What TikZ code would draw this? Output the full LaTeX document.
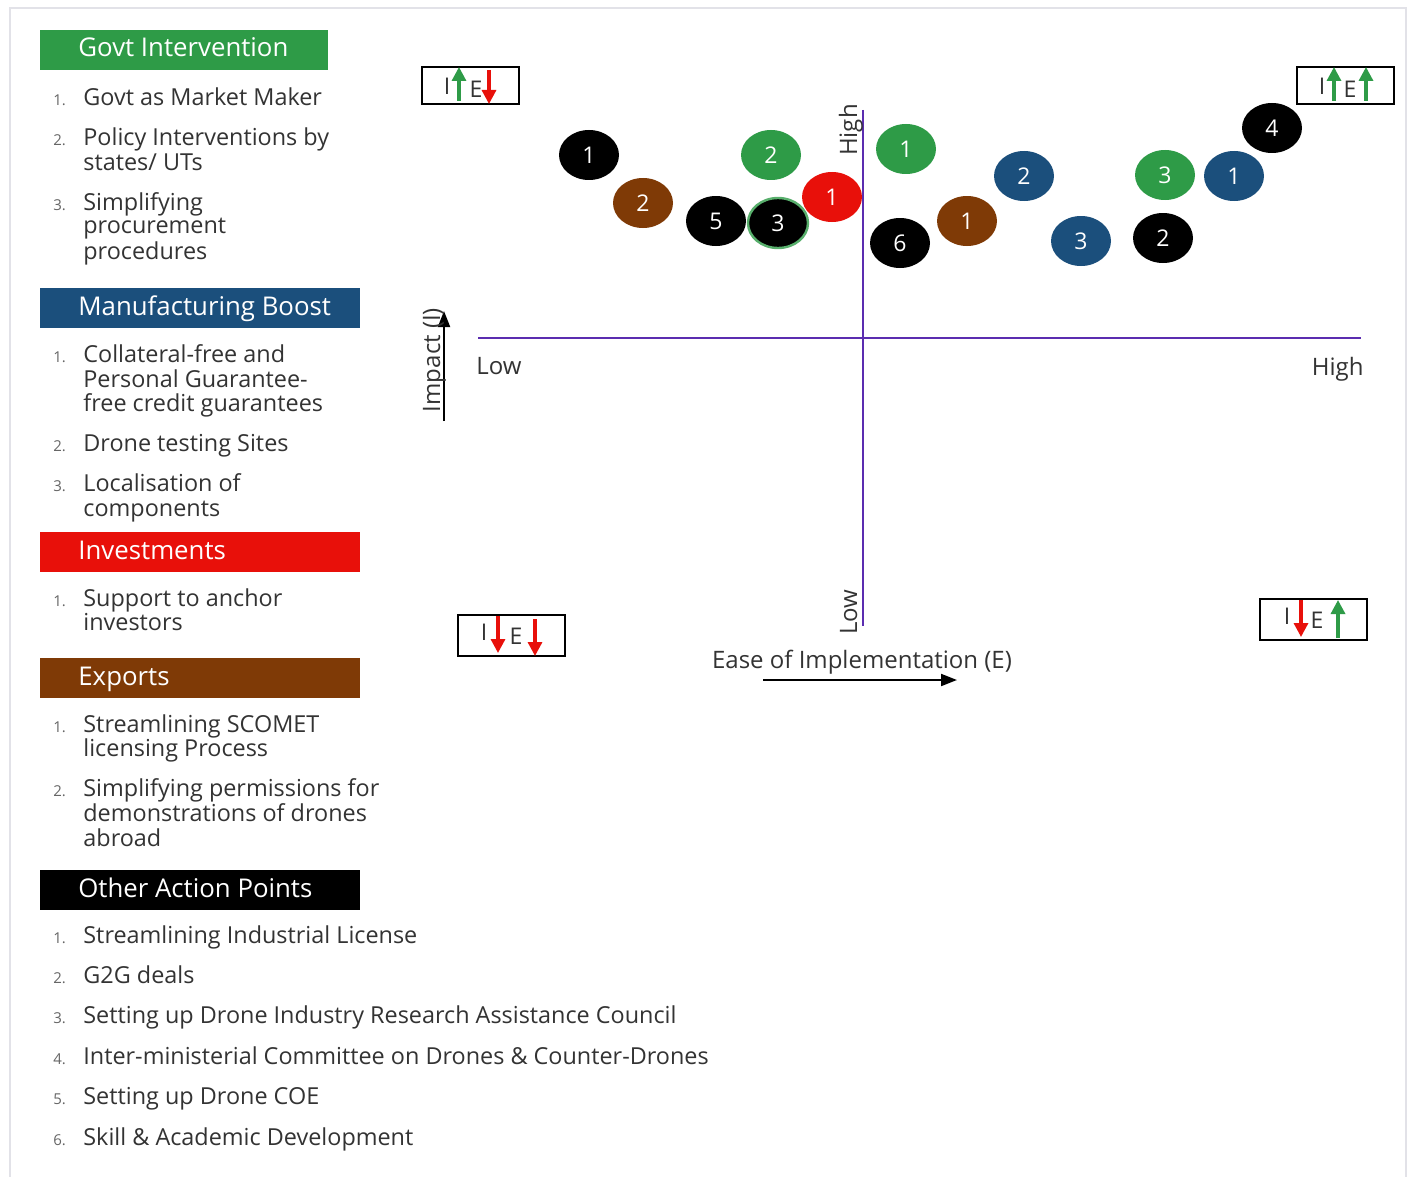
\documentclass[tikz,border=0pt]{standalone}
\usepackage{fontspec}
\setmainfont{Open Sans}
\usetikzlibrary{arrows.meta,shapes.geometric}
\definecolor{gGreen}{HTML}{2E9B47}
\definecolor{gBlue}{HTML}{1B4F7C}
\definecolor{gRed}{HTML}{E8100A}
\definecolor{gBrown}{HTML}{7F3A06}
\definecolor{axisPurple}{HTML}{5B2DB0}
\definecolor{txtGray}{HTML}{333333}
\definecolor{numGray}{HTML}{666666}
\definecolor{frameGray}{HTML}{E2E2E8}
\tikzset{
  hdrbox/.style={rectangle, anchor=north west, inner sep=0pt, minimum height=20pt},
  hdrtxt/.style={anchor=base west, inner sep=0pt, text=white, font=\fontsize{12.9}{14}\selectfont},
  itm/.style={anchor=base west, inner sep=0pt, text=txtGray, font=\fontsize{11.7}{13}\selectfont},
  num/.style={anchor=base west, inner sep=0pt, text=numGray, font=\fontsize{7.5}{9}\selectfont},
  dot/.style={ellipse, minimum width=30pt, minimum height=25pt, inner sep=0pt, text=white, font=\fontsize{11.5}{13}\selectfont},
  axlbl/.style={inner sep=0pt, text=txtGray, font=\fontsize{12}{13}\selectfont},
  iebox/.style={draw=black, line width=1pt, rectangle, inner sep=0pt, anchor=north west},
  ielet/.style={inner sep=0pt, text=txtGray, font=\fontsize{11.5}{12}\selectfont},
  uparr/.style={-{Triangle[width=7pt,length=7pt]}, line width=1.6pt},
}
\begin{document}
\begin{tikzpicture}[x=0.5pt,y=-0.5pt]
\useasboundingbox (0,0) rectangle (1414,1177);
\fill[white] (0,0) rectangle (1414,1177);
\draw[frameGray, line width=1.2pt] (10,1180) -- (10,8) -- (1406,8) -- (1406,1180);

% ---------- left panel headers ----------
\node[hdrbox, fill=gGreen, minimum width=144pt] (hGov) at (40,30) {};
\node[hdrtxt] (tGov) at (78,57) {Govt Intervention};
\node[hdrbox, fill=gBlue, minimum width=160pt] (hMan) at (40,288) {};
\node[hdrtxt] (tMan) at (78,315) {Manufacturing Boost};
\node[hdrbox, fill=gRed, minimum width=160pt] (hInv) at (40,532) {};
\node[hdrtxt] (tInv) at (78,559) {Investments};
\node[hdrbox, fill=gBrown, minimum width=160pt] (hExp) at (40,658) {};
\node[hdrtxt] (tExp) at (78,685) {Exports};
\node[hdrbox, fill=black, minimum width=160pt] (hOth) at (40,870) {};
\node[hdrtxt] (tOth) at (78,897) {Other Action Points};

% ---------- Govt items ----------
\node[num] (gn1) at (53,105) {1.};
\node[itm] (g1a) at (83,105) {Govt as Market Maker};
\node[num] (gn2) at (53,146) {2.};
\node[itm] (g2a) at (83,146) {Policy Interventions by};
\node[itm] (g2b) at (83,170) {states/ UTs};
\node[num] (gn3) at (53,210) {3.};
\node[itm] (g3a) at (83,210) {Simplifying};
\node[itm] (g3b) at (83,234) {procurement};
\node[itm] (g3c) at (83,259) {procedures};

% ---------- Manufacturing items ----------
\node[num] (mn1) at (53,362) {1.};
\node[itm] (m1a) at (83,362) {Collateral-free and};
\node[itm] (m1b) at (83,387) {Personal Guarantee-};
\node[itm] (m1c) at (83,411) {free credit guarantees};
\node[num] (mn2) at (53,451) {2.};
\node[itm] (m2a) at (83,451) {Drone testing Sites};
\node[num] (mn3) at (53,491) {3.};
\node[itm] (m3a) at (83,491) {Localisation of};
\node[itm] (m3b) at (83,516) {components};

% ---------- Investments ----------
\node[num] (in1) at (53,606) {1.};
\node[itm] (i1a) at (83,606) {Support to anchor};
\node[itm] (i1b) at (83,630) {investors};

% ---------- Exports ----------
\node[num] (en1) at (53,732) {1.};
\node[itm] (e1a) at (83,732) {Streamlining SCOMET};
\node[itm] (e1b) at (83,756) {licensing Process};
\node[num] (en2) at (53,796) {2.};
\node[itm] (e2a) at (83,796) {Simplifying permissions for};
\node[itm] (e2b) at (83,821) {demonstrations of drones};
\node[itm] (e2c) at (83,846) {abroad};

% ---------- Other action points ----------
\node[num] (on1) at (53,943) {1.};
\node[itm] (o1) at (83,943) {Streamlining Industrial License};
\node[num] (on2) at (53,983) {2.};
\node[itm] (o2) at (83,983) {G2G deals};
\node[num] (on3) at (53,1023) {3.};
\node[itm] (o3) at (83,1023) {Setting up Drone Industry Research Assistance Council};
\node[num] (on4) at (53,1064) {4.};
\node[itm] (o4) at (83,1064) {Inter-ministerial Committee on Drones \& Counter-Drones};
\node[num] (on5) at (53,1104) {5.};
\node[itm] (o5) at (83,1104) {Setting up Drone COE};
\node[num] (on6) at (53,1145) {6.};
\node[itm] (o6) at (83,1145) {Skill \& Academic Development};

% ---------- axes ----------
\coordinate (xL) at (478,338);
\coordinate (xR) at (1361,338);
\coordinate (yT) at (863,110);
\coordinate (yB) at (863,626);
\draw[axisPurple, line width=1.3pt] (xL) -- (xR);
\draw[axisPurple, line width=1.3pt] (yT) -- (yB);
\node[axlbl, anchor=base west] (lowX) at (476,374) {Low};
\node[axlbl, anchor=base east] (highX) at (1364,375) {High};
\node[axlbl, rotate=90, anchor=base] (highY) at (857,130) {High};
\node[axlbl, rotate=90, anchor=base] (lowY) at (857,612) {Low};

% Impact arrow
\coordinate (impB) at (444,421);
\coordinate (impT) at (444,311);
\draw[-{Triangle[width=6pt,length=8pt]}, line width=1pt] (impB) -- (impT);
\node[axlbl, rotate=90, anchor=base] (impL) at (440,360) {Impact (I)};

% Ease arrow
\node[axlbl, anchor=base] (easeL) at (862,668) {Ease of Implementation (E)};
\coordinate (easeA) at (763,680);
\coordinate (easeB) at (957,680);
\draw[-{Triangle[width=6pt,length=8pt]}, line width=1pt] (easeA) -- (easeB);

% ---------- quadrant boxes ----------
% top-left: I up (green), E down (red)
\node[iebox, minimum width=48.5pt, minimum height=18.5pt] (qTL) at (421,66) {};
\node[ielet] (qTLi) at (447,86) {I};
\node[ielet] (qTLe) at (476,89) {E};
\coordinate (qTLa1) at (459,101); \coordinate (qTLa2) at (459,67);
\coordinate (qTLb1) at (489,70);  \coordinate (qTLb2) at (489,104);
\draw[uparr, gGreen] (qTLa1) -- (qTLa2);
\draw[uparr, gRed] (qTLb1) -- (qTLb2);

% top-right: I up, E up
\node[iebox, minimum width=48.5pt, minimum height=18.5pt] (qTR) at (1296,66) {};
\node[ielet] (qTRi) at (1322,86) {I};
\node[ielet] (qTRe) at (1350,89) {E};
\coordinate (qTRa1) at (1334,101); \coordinate (qTRa2) at (1334,67);
\coordinate (qTRb1) at (1366,101); \coordinate (qTRb2) at (1366,67);
\draw[uparr, gGreen] (qTRa1) -- (qTRa2);
\draw[uparr, gGreen] (qTRb1) -- (qTRb2);

% bottom-left: I down, E down
\node[iebox, minimum width=53.5pt, minimum height=20.5pt] (qBL) at (457,614) {};
\node[ielet] (qBLi) at (484,632) {I};
\node[ielet] (qBLe) at (516,636) {E};
\coordinate (qBLa1) at (498,616); \coordinate (qBLa2) at (498,653);
\coordinate (qBLb1) at (535,619); \coordinate (qBLb2) at (535,656);
\draw[uparr, gRed] (qBLa1) -- (qBLa2);
\draw[uparr, gRed] (qBLb1) -- (qBLb2);

% bottom-right: I down, E up
\node[iebox, minimum width=53.5pt, minimum height=20.5pt] (qBR) at (1259,598) {};
\node[ielet] (qBRi) at (1287,616) {I};
\node[ielet] (qBRe) at (1317,620) {E};
\coordinate (qBRa1) at (1301,600); \coordinate (qBRa2) at (1301,637);
\coordinate (qBRb1) at (1338,638); \coordinate (qBRb2) at (1338,600);
\draw[uparr, gRed] (qBRa1) -- (qBRa2);
\draw[uparr, gGreen] (qBRb1) -- (qBRb2);

% ---------- dots ----------
\node[dot, fill=black] (dK1) at (589,155) {1};
\node[dot, fill=gBrown] (dBr2) at (643,203) {2};
\node[dot, fill=black] (dK5) at (716,221) {5};
\node[dot, fill=black, draw=gGreen!80, line width=1.2pt] (dK3) at (778,223) {3};
\node[dot, fill=gGreen] (dG2) at (771,155) {2};
\node[dot, fill=gRed] (dR1) at (832,197) {1};
\node[dot, fill=gGreen] (dG1) at (906,149) {1};
\node[dot, fill=black] (dK6) at (900,243) {6};
\node[dot, fill=gBrown] (dBr1) at (967,221) {1};
\node[dot, fill=gBlue] (dB2) at (1024,176) {2};
\node[dot, fill=gBlue] (dB3) at (1081,241) {3};
\node[dot, fill=gGreen] (dG3) at (1165,175) {3};
\node[dot, fill=gBlue] (dB1) at (1234,176) {1};
\node[dot, fill=black] (dK2) at (1163,238) {2};
\node[dot, fill=black] (dK4) at (1272,128) {4};
\end{tikzpicture}
\end{document}
